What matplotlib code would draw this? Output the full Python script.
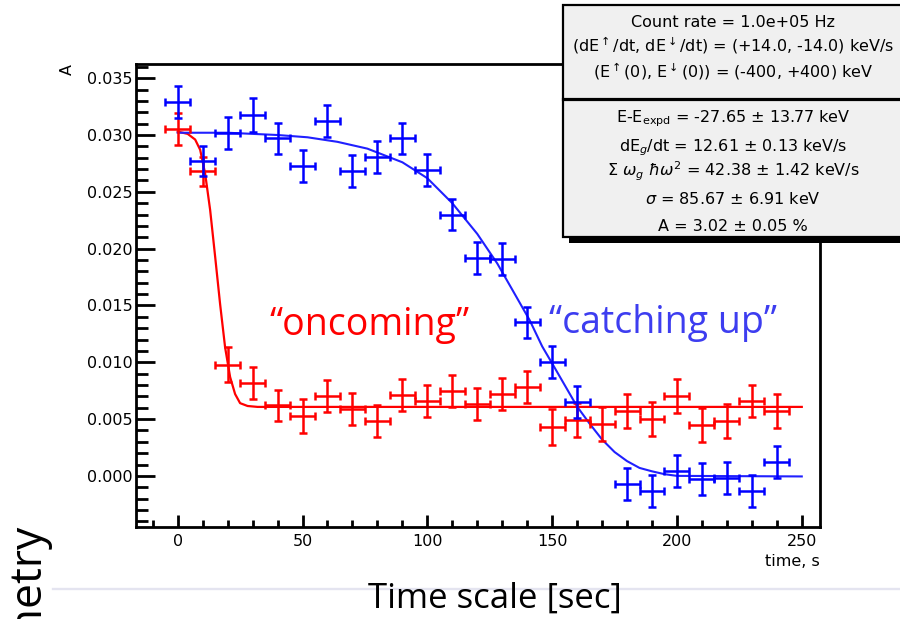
import matplotlib
matplotlib.use("Agg")
import matplotlib.pyplot as plt
from matplotlib.patches import Rectangle
from matplotlib.lines import Line2D
from matplotlib.ticker import MultipleLocator, FormatStrFormatter

# ---------------- data ----------------
red_x = [0, 10, 20, 30, 40, 50, 60, 70, 80, 90, 100, 110, 120, 130, 140,
         150, 160, 170, 180, 190, 200, 210, 220, 230, 240]
red_y = [0.0305, 0.0268, 0.0098, 0.0082, 0.0062, 0.0053, 0.0070, 0.0059,
         0.0048, 0.0071, 0.0066, 0.0075, 0.0063, 0.0072, 0.0078, 0.0043,
         0.0049, 0.0046, 0.0057, 0.0050, 0.0070, 0.0045, 0.0048, 0.0066,
         0.0057]
red_yerr = [0.0014, 0.0013, 0.0015, 0.0014, 0.0014, 0.0015, 0.0014, 0.0014,
            0.0014, 0.0014, 0.0014, 0.0014, 0.0014, 0.0014, 0.0014, 0.0016,
            0.0015, 0.0015, 0.0015, 0.0015, 0.0015, 0.0015, 0.0015, 0.0014,
            0.0015]

blue_x = [0, 10, 20, 30, 40, 50, 60, 70, 80, 90, 100, 110, 120, 130, 140,
          150, 160, 180, 190, 200, 210, 220, 230, 240]
blue_y = [0.0329, 0.0277, 0.0302, 0.0318, 0.0297, 0.0273, 0.0312, 0.0268,
          0.0281, 0.0297, 0.0269, 0.0230, 0.0192, 0.0191, 0.0135, 0.0100,
          0.0065, -0.0007, -0.0013, 0.0004, -0.0003, -0.0002, -0.0013,
          0.0012]
blue_yerr = [0.0014, 0.0013, 0.0014, 0.0015, 0.0014, 0.0014, 0.0014, 0.0014,
             0.0014, 0.0014, 0.0014, 0.0014, 0.0014, 0.0014, 0.0014, 0.0014,
             0.0014, 0.0014, 0.0014, 0.0014, 0.0014, 0.0014, 0.0014, 0.0014]

bin_half_width = 5

red_fit_t = [0, 4, 7, 9, 11, 13, 15, 17, 19, 21, 23, 25, 28, 32, 250]
red_fit_y = [0.0303, 0.0301, 0.0296, 0.0287, 0.0266, 0.0234, 0.0193, 0.0151,
             0.0113, 0.0087, 0.0072, 0.0064, 0.00615, 0.00607, 0.00607]

blue_fit_t = [0, 20, 40, 52, 64, 76, 90, 100, 110, 120, 128, 134, 141, 146,
              150, 155, 160, 165, 170, 175, 180, 185, 190, 195, 200, 250]
blue_fit_y = [0.0302, 0.0302, 0.0300, 0.0298, 0.0294, 0.0288, 0.0276, 0.0262,
              0.0240, 0.0213, 0.0187, 0.0164, 0.0137, 0.0114, 0.0099, 0.0080,
              0.0061, 0.0046, 0.0032, 0.0021, 0.0013, 0.0007, 0.0004, 0.00015,
              0.0, -0.00005]

stats_top = [
    "Count rate = 1.0e+05 Hz",
    r"(dE$^{\uparrow}$/dt, dE$^{\downarrow}$/dt) = (+14.0, -14.0) keV/s",
    r"(E$^{\uparrow}$(0), E$^{\downarrow}$(0)) = (-400, +400) keV",
]
stats_bottom = [
    r"E-E$_{\rm expd}$ = -27.65 ± 13.77 keV",
    r"dE$_{g}$/dt = 12.61 ± 0.13 keV/s",
    r"$\Sigma$ $\omega_{g}$ $\hbar\omega^{2}$ = 42.38 ± 1.42 keV/s",
    r"$\sigma$ = 85.67 ± 6.91 keV",
    "A = 3.02 ± 0.05 %",
]

# ---------------- figure ----------------
plt.rcParams['mathtext.fontset'] = 'dejavusans'
W, H = 900, 619
fig = plt.figure(figsize=(W / 100, H / 100), dpi=100)
fig.patch.set_facecolor('white')

def fx(px):
    return px / W

def fy(py):
    return 1 - py / H

ax_l, ax_r, ax_t, ax_b = 136, 820, 64, 527
ax = fig.add_axes([fx(ax_l), fy(ax_b), (ax_r - ax_l) / W, (ax_b - ax_t) / H])
ax.set_xlim(-16.7, 257.3)
ax.set_ylim(-0.0045, 0.03625)

ax.plot(red_fit_t, red_fit_y, color='#ff0000', lw=1.6, zorder=2)
ax.plot(blue_fit_t, blue_fit_y, color='#2020ff', lw=1.5, zorder=2)

ax.errorbar(red_x, red_y, xerr=bin_half_width, yerr=red_yerr, fmt='none',
            ecolor='#ff0000', elinewidth=1.8, capsize=3, capthick=1.8, zorder=3)
ax.errorbar(blue_x, blue_y, xerr=bin_half_width, yerr=blue_yerr, fmt='none',
            ecolor='#0000ff', elinewidth=1.8, capsize=3, capthick=1.8, zorder=3)

for s in ax.spines.values():
    s.set_linewidth(2)
    s.set_color('black')

ax.xaxis.set_major_locator(MultipleLocator(50))
ax.xaxis.set_minor_locator(MultipleLocator(10))
ax.yaxis.set_major_locator(MultipleLocator(0.005))
ax.yaxis.set_minor_locator(MultipleLocator(0.001))
ax.yaxis.set_major_formatter(FormatStrFormatter('%.3f'))
ax.xaxis.set_major_formatter(FormatStrFormatter('%d'))

ax.tick_params(axis='y', which='major', direction='in', length=14, width=2,
               labelsize=11.5, pad=2.5, left=True, right=False)
ax.tick_params(axis='y', which='minor', direction='in', length=8.5, width=2,
               left=True, right=False)
ax.tick_params(axis='x', which='major', direction='in', length=9, width=2,
               labelsize=11.5, pad=5, bottom=True, top=False)
ax.tick_params(axis='x', which='minor', direction='in', length=5, width=2,
               bottom=True, top=False)

# axis titles (ROOT style)
fig.text(fx(820), fy(562), "time, s", ha='right', va='center', fontsize=11.5,
         family='DejaVu Sans')
fig.text(fx(67), fy(64), "A", ha='right', va='center', rotation=90,
         rotation_mode='anchor', fontsize=11.5, family='DejaVu Sans')

# ---------------- stats box ----------------
bx_l, bx_r, bx_t, bx_b = 563, 906, 5, 237
fig.add_artist(Rectangle((fx(bx_l + 6), fy(bx_b + 6)), (bx_r - bx_l) / W,
                         (bx_b - bx_t) / H, transform=fig.transFigure,
                         facecolor='black', edgecolor='none', zorder=10))
fig.add_artist(Rectangle((fx(bx_l), fy(bx_b)), (bx_r - bx_l) / W,
                         (bx_b - bx_t) / H, transform=fig.transFigure,
                         facecolor='#f0f0f0', edgecolor='black', lw=1.6,
                         zorder=11))
fig.add_artist(Line2D([fx(bx_l), fx(bx_r)], [fy(98.5), fy(98.5)],
                      transform=fig.transFigure, color='black', lw=2.3,
                      zorder=12))

cx = 733
for txt, yb in zip(stats_top, [27, 51, 77]):
    fig.text(fx(cx), fy(yb), txt, ha='center', va='baseline', fontsize=11.5,
             family='DejaVu Sans', zorder=13)
for txt, yb in zip(stats_bottom, [122, 151, 176, 204, 231]):
    fig.text(fx(cx), fy(yb), txt, ha='center', va='baseline', fontsize=11.5,
             family='DejaVu Sans', zorder=13)

# ---------------- slide annotations ----------------
fig.text(fx(370), fy(335), "\u201concoming\u201d", ha='center', va='baseline',
         fontsize=27, color='#ff0000', family='Open Sans', zorder=14)
fig.text(fx(663), fy(333), "\u201ccatching up\u201d", ha='center', va='baseline',
         fontsize=27, color='#3d3df0', family='Open Sans', zorder=14)

fig.add_artist(Line2D([fx(53), fx(900)], [fy(589), fy(589)],
                      transform=fig.transFigure, color='#e4e4f0', lw=1.7,
                      zorder=1))
fig.text(fx(495), fy(608), "Time scale [sec]", ha='center', va='baseline',
         fontsize=25, color='black', family='Open Sans', zorder=14)
fig.text(fx(42), fy(527), "Asymmetry", ha='right', va='baseline', rotation=90,
         rotation_mode='anchor', fontsize=32, color='black',
         family='Open Sans', zorder=14)

fig.savefig("out.png", dpi=100)
